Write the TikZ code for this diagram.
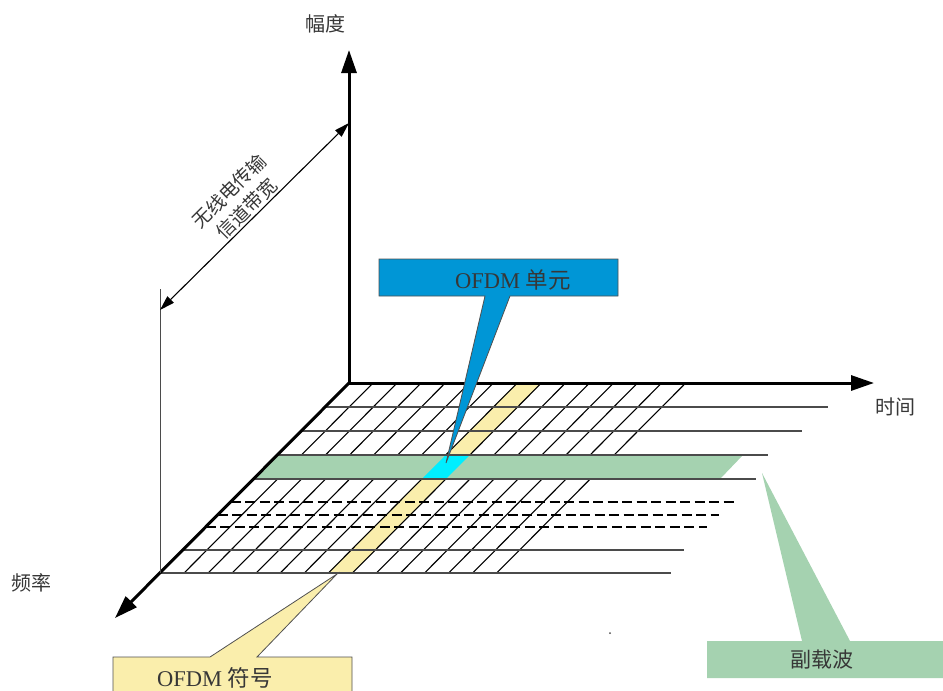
\documentclass[tikz,border=0pt]{standalone}
\usepackage{fontspec}
\setmainfont{Liberation Serif}
\newfontfamily\cjk{Noto Sans CJK SC}
\usetikzlibrary{arrows.meta}
\definecolor{bluebox}{RGB}{0,150,214}
\definecolor{cyancell}{RGB}{0,238,255}
\definecolor{yellowband}{RGB}{250,238,172}
\definecolor{greenband}{RGB}{165,210,176}
\definecolor{txt}{RGB}{55,55,55}
\definecolor{gridgray}{RGB}{75,75,75}
\definecolor{edgegray}{RGB}{80,80,80}
\begin{document}
\begin{tikzpicture}[x=1pt,y=-1pt,
  axisline/.style={line width=3pt,-{Triangle[length=23pt,width=15pt]}},
  hline/.style={gridgray,line width=1.4pt},
  dline/.style={black,line width=2.2pt,dash pattern=on 10pt off 4.5pt},
  sline/.style={black,line width=1.1pt},
  lbl/.style={text=txt,inner sep=0pt,font=\cjk\fontsize{20}{24}\selectfont},
  calltext/.style={text=txt,inner sep=0pt,font=\fontsize{22.5}{26}\selectfont},
  dimline/.style={black,line width=1.1pt,{Triangle[length=15pt,width=9pt]}-{Triangle[length=15pt,width=9pt]}},
  callout/.style={draw=edgegray,line width=0.8pt}
]
\useasboundingbox (0,0) rectangle (943,691);
\clip (0,0) rectangle (943,691);

% key points
\coordinate (O) at (349,383);
\coordinate (Atop) at (349,50);
\coordinate (Aright) at (874,383);
\coordinate (C) at (160,573);
\coordinate (Afreq) at (115,618);
\coordinate (Vtop) at (160,289);
\coordinate (Bw1) at (160,310);
\coordinate (Bw2) at (349,123);

% yellow symbol band
\fill[yellowband] ({349+24.05*7},383) -- ({349+24.05*8},383) -- ({160+24.05*8},573) -- ({160+24.05*7},573) -- cycle;

% slanted grid lines
\foreach \k in {0,...,14}
  \draw[sline] ({349+24.05*\k},383) -- ({160+24.05*\k},573);

% green subcarrier band
\fill[greenband] ({349-0.99474*72},455) -- (743,455) -- (720,479) -- ({349-0.99474*96},479) -- cycle;

% cyan cell
\fill[cyancell] ({349+24.05*7-0.99474*72},455) -- ({349+24.05*8-0.99474*72},455)
  -- ({349+24.05*8-0.99474*96},479) -- ({349+24.05*7-0.99474*96},479) -- cycle;

% horizontal rows
\foreach \y/\xe in {407/828,431/802,455/768,479/756,550/684,573/671}
  \draw[hline] ({349-0.99474*(\y-383)},\y) -- (\xe,\y);
\foreach \y/\xe in {502/734,515/719,527/707}
  \draw[dline] ({349-0.99474*(\y-383)},\y) -- (\xe,\y);

% axes
\draw[axisline] ([xshift=-1.5pt]O) -- (Aright);
\draw[axisline] ([yshift=1.5pt]O) -- (Atop);
\draw[axisline] (O) -- (Afreq);

% bandwidth dimension
\draw[gridgray,line width=1pt] (Vtop) -- (C);
\draw[dimline] (Bw1) -- (Bw2);
\node[lbl,rotate=45,align=center,font=\cjk\fontsize{19}{25}\selectfont] (bw) at (238,200) {无线电传输\\信道带宽};

% OFDM cell callout (blue)
\draw[callout,fill=bluebox] (379,259) -- (618,259) -- (618,296) -- (510,296) -- (446,463) -- (485,296) -- (379,296) -- cycle;
\node[calltext] (cell) at (513,280) {OFDM {\cjk 单元}};

% OFDM symbol callout (yellow)
\draw[callout,fill=yellowband] (113,657) -- (210,657) -- (337,574) -- (257,657) -- (352,657) -- (352,700) -- (113,700) -- cycle;
\node[calltext] (sym) at (215,678) {OFDM {\cjk 符号}};

% subcarrier callout (green)
\fill[greenband] (707,641) -- (802,641) -- (762,473) -- (850,641) -- (950,641) -- (950,678) -- (707,678) -- cycle;
\node[lbl,font=\cjk\fontsize{21}{25}\selectfont] (sub) at (822,660) {副载波};

% axis labels
\node[lbl] (amp) at (325,24) {幅度};
\node[lbl] (time) at (895,407) {时间};
\node[lbl] (freq) at (31,583) {频率};

% stray dot
\fill[gridgray] (610,633) circle (1pt);
\end{tikzpicture}
\end{document}
